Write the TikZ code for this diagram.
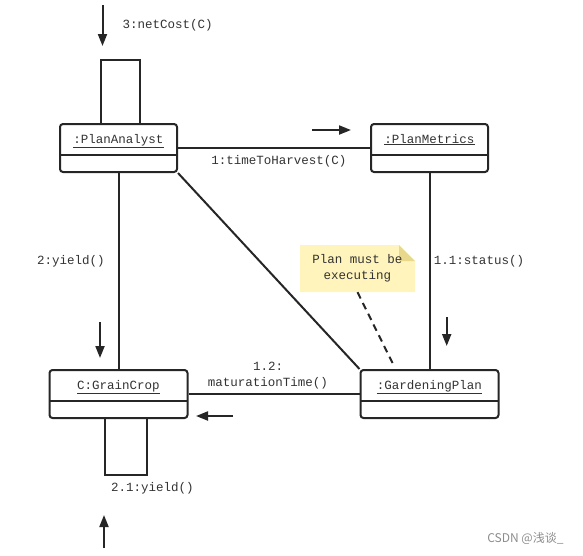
\documentclass[tikz,border=0pt]{standalone}
\usepackage{fontspec}
\newfontfamily\umlfont{Liberation Mono}
\newfontfamily\cjk{Noto Sans CJK SC}
\usepackage{tikz}
\usetikzlibrary{arrows.meta, calc, positioning}
\definecolor{notefill}{RGB}{255,244,188}
\definecolor{foldfill}{RGB}{232,216,140}

\begin{document}
\begin{tikzpicture}[x=1pt, y=1pt, >={Triangle[length=12pt, width=9pt]},
    font=\umlfont\fontsize{12.5}{16}\selectfont, text=black!80,
    line/.style={draw=black!85, line width=2pt},
    obj/.style={line, fill=white, rounded corners=3pt, minimum width=117pt, minimum height=48pt,
        inner sep=0pt, text height=19pt, text depth=29pt,
        path picture={\draw[black!85, line width=2pt]
            ([yshift=17pt]path picture bounding box.south west) -- ([yshift=17pt]path picture bounding box.south east);}},
    msg/.style={->, draw=black!85, line width=2pt},
    note/.style={minimum width=115pt, minimum height=47pt, inner sep=0pt, align=center,
        path picture={
            \fill[notefill] (path picture bounding box.south west) -- (path picture bounding box.north west)
                -- ([xshift=-16pt]path picture bounding box.north east) -- ([yshift=-16pt]path picture bounding box.north east)
                -- (path picture bounding box.south east) -- cycle;
            \fill[foldfill] ([xshift=-16pt]path picture bounding box.north east)
                -- ([xshift=-16pt,yshift=-16pt]path picture bounding box.north east)
                -- ([yshift=-16pt]path picture bounding box.north east) -- cycle;}}
]
    \useasboundingbox (0,0) rectangle (583,-555);

    % Objects
    \node[obj] (analyst) at (118.5,-148) {\underline{:PlanAnalyst}};
    \node[obj, right=192pt of analyst] (metrics) {\underline{:PlanMetrics}};
    \node[obj, minimum width=138pt, below=196pt of analyst] (crop) {\underline{C:GrainCrop}};
    \node[obj, minimum width=138pt, below=196pt of metrics] (plan) {\underline{:GardeningPlan}};

    % Links
    \draw[line] (analyst) -- (metrics);
    \draw[line] (analyst) -- (crop);
    \draw[line] (metrics) -- (plan);
    \draw[line] (analyst.south east) -- (plan.north west);
    \draw[line] (crop) -- (plan);

    % Self links
    \draw[line] ([xshift=-17.5pt]analyst.north) -- ++(0,63) -| ([xshift=21.5pt]analyst.north);
    \draw[line] ([xshift=-14pt]crop.south) -- ++(0,-56) -| ([xshift=28.7pt]crop.south);

    % Note
    \node[note] (memo) at (357.5,-268.5) {Plan must be\\executing};
    \draw[line, dash pattern=on 7pt off 5pt, shorten >=5pt] (memo.south) -- ([xshift=-34pt]plan.north);

    % Message arrows
    \draw[msg] (102.5,-5) -- (102.5,-46);
    \draw[msg] (312,-130) -- (351,-130);
    \draw[msg] (446.7,-317) -- (446.7,-346);
    \draw[msg] (100,-322) -- (100,-358);
    \draw[msg] (233,-416) -- (196,-416);
    \draw[msg] (104,-548) -- (104,-515);

    % Message labels
    \node[anchor=west] (lnet) at (119,-25) {3:netCost(C)};
    \node (lharvest) at (279,-161) {1:timeToHarvest(C)};
    \node (lyield) at (71,-261) {2:yield()};
    \node (lstatus) at (479,-261) {1.1:status()};
    \node[align=center] (lmature) at (268,-376) {1.2:\\maturationTime()};
    \node (lyieldtwo) at (152.5,-488) {2.1:yield()};

    % Watermark
    \node[anchor=east, font=\cjk\fontsize{12}{14}\selectfont, text=black!45] (mark) at (567,-538) {CSDN @浅谈\_};
\end{tikzpicture}
\end{document}
